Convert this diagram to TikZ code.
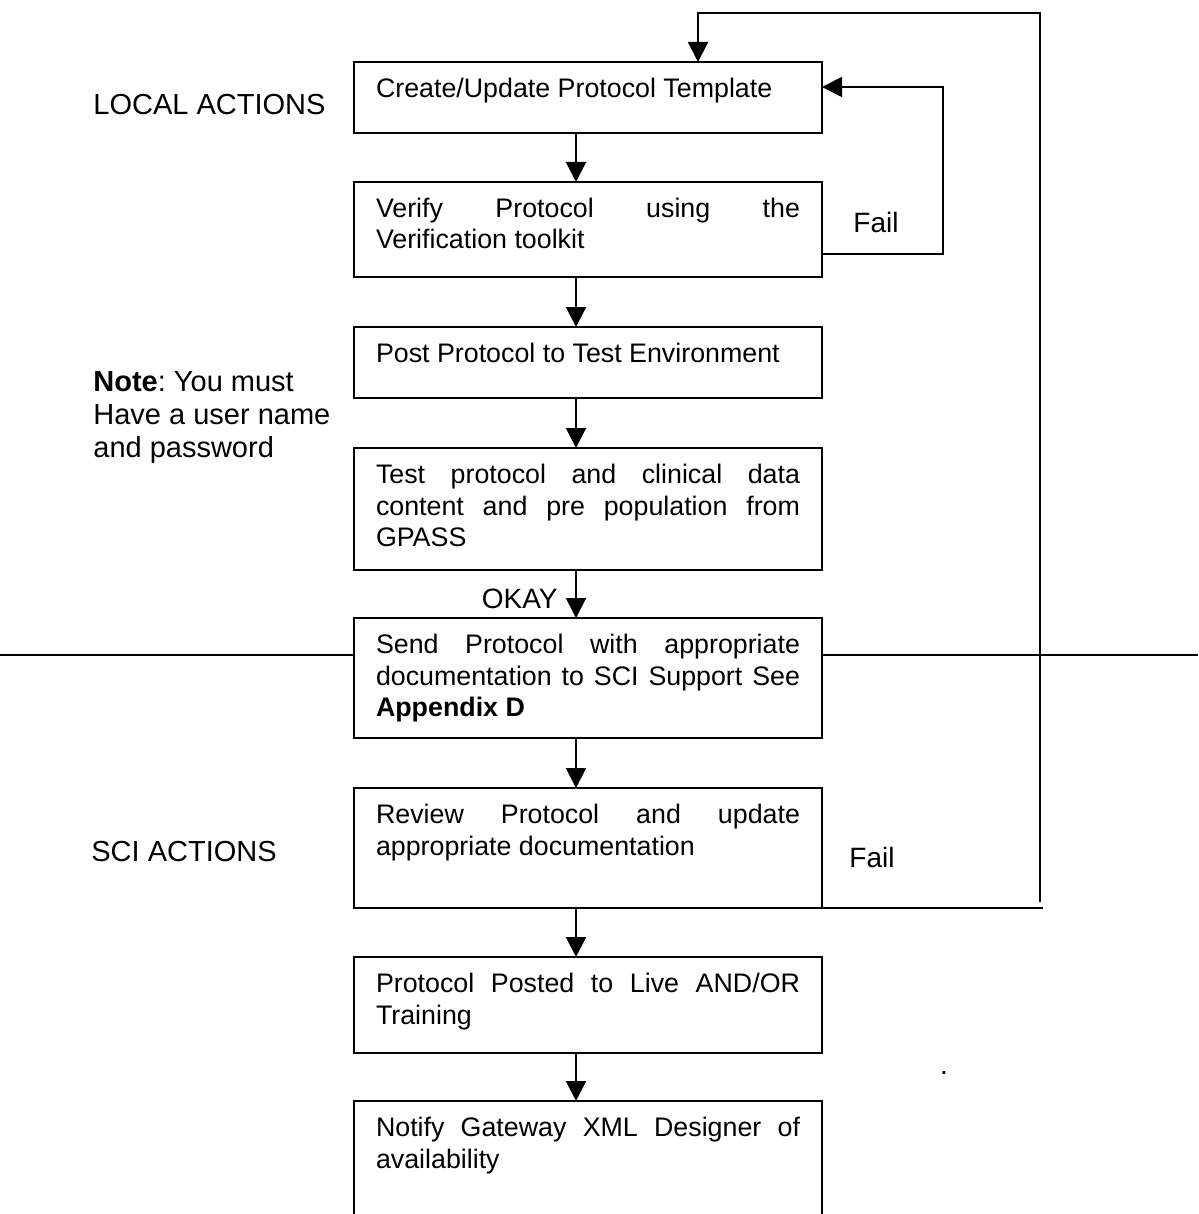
\documentclass[tikz,border=0pt]{standalone}
\usepackage{fontspec}
\setmainfont{Liberation Sans}
\usetikzlibrary{arrows.meta, positioning}
\hyphenpenalty=10000
\exhyphenpenalty=10000
\frenchspacing

\begin{document}
\begin{tikzpicture}[
  x=0.5pt, y=-0.5pt,
  etape/.style={
    draw, line width=1pt,
    anchor=north west,
    outer sep=0pt,
    inner xsep=11pt, inner ysep=0pt,
    text width=212pt, align=justify,
    font=\fontsize{13.4pt}{15.75pt}\selectfont,
    text height=17.75pt,
    text depth=#1
  },
  zone/.style={
    font=\fontsize{14.5pt}{16.5pt}\selectfont,
    inner sep=0pt
  },
  etiquette/.style={
    font=\fontsize{14pt}{16pt}\selectfont,
    inner sep=0pt
  },
  lien/.style={
    -{Triangle[length=10pt, width=10pt]},
    line width=1pt
  },
  trait/.style={line width=1pt}
]
\useasboundingbox (0,0) rectangle (1198,1214);

% Etapes
\node[etape=17.75pt] (creer) at (354,62) {Create/Update Protocol Template};
\node[etape=29.75pt] (verifier) at (354,182) {Verify Protocol using the\linebreak Verification toolkit};
\node[etape=17.75pt] (poster) at (354,327) {Post Protocol to Test Environment};
\node[etape=43.25pt] (tester) at (354,448) {Test protocol and clinical data\linebreak content and pre population from\linebreak GPASS};
\node[etape=42.25pt] (envoyer) at (354,618) {Send Protocol with appropriate\linebreak documentation to SCI Support See\linebreak \textbf{Appendix D}};
\node[etape=42.25pt] (revoir) at (354,788) {Review Protocol and update\linebreak appropriate documentation};
\node[etape=30.25pt] (publier) at (354,957) {Protocol Posted to Live AND/OR\linebreak Training};
\node[etape=57.25pt] (notifier) at (354,1101) {Notify Gateway XML Designer of\linebreak availability};

% Textes a gauche
\node[zone, anchor=west] (local) at (93,105) {LOCAL ACTIONS};
\node[zone, anchor=north west, align=left] (note) at (93,371) {\textbf{Note}: You must\\Have a user name\\and password};
\node[zone, anchor=west] (sci) at (91,852) {SCI ACTIONS};

% Etiquettes
\node[etiquette, anchor=west] (echec1) at (853,222) {Fail};
\node[etiquette, anchor=west] (echec2) at (849,857) {Fail};
\node[etiquette, anchor=east] (okay) at (558,599) {OKAY};
\node[etiquette] (point) at (944,1073) {.};

% Liaisons verticales
\draw[lien] ([xshift=-6pt]creer.south) -- ([xshift=-6pt]verifier.north);
\draw[lien] ([xshift=-6pt]verifier.south) -- ([xshift=-6pt]poster.north);
\draw[lien] ([xshift=-6pt]poster.south) -- ([xshift=-6pt]tester.north);
\draw[lien] ([xshift=-6pt]tester.south) -- ([xshift=-6pt]envoyer.north);
\draw[lien] ([xshift=-6pt]envoyer.south) -- ([xshift=-6pt]revoir.north);
\draw[lien] ([xshift=-6pt]revoir.south) -- ([xshift=-6pt]publier.north);
\draw[lien] ([xshift=-6pt]publier.south) -- ([xshift=-6pt]notifier.north);

% Boucle courte (verification)
\coordinate (coude1) at (943,170);
\draw[lien] ([yshift=11.5pt]verifier.south east) -| (coude1) |- ([yshift=5.25pt]creer.east);

% Boucle longue (revue SCI)
\coordinate (fin) at (1043,908);
\coordinate (depart) at (1040,902);
\coordinate (haut) at (1040,13);
\draw[trait] (revoir.south east) -- (fin);
\draw[lien] (depart) -- (haut) -| ([xshift=55pt]creer.north);

% Separation local / SCI
\coordinate (bordG) at (0,655);
\coordinate (bordD) at (1198,655);
\draw[trait] (bordG) -- (bordG -| envoyer.west);
\draw[trait] (bordD -| envoyer.east) -- (bordD);

\end{tikzpicture}
\end{document}
